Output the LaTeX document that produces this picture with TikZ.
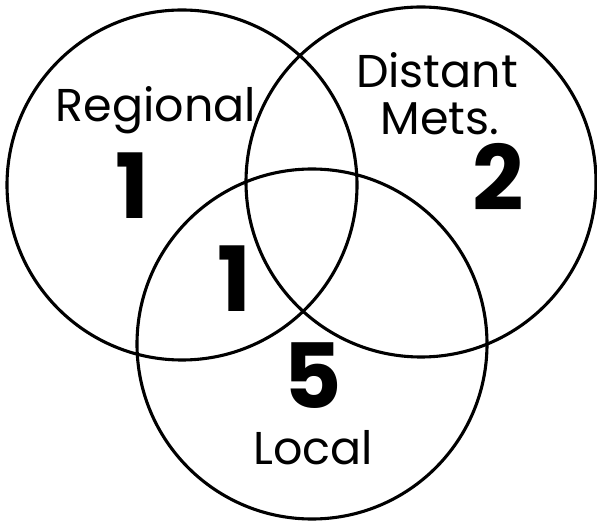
\documentclass[tikz,border=0pt]{standalone}
\usepackage{fontspec}
\setmainfont{Poppins}
\begin{document}
\begin{tikzpicture}[x=1pt,y=-1pt,
  ring/.style={draw=black, line width=3.1pt, circle, minimum size=350pt, inner sep=0pt},
  word/.style={anchor=base, inner sep=0pt, font=\fontsize{46}{46}\selectfont},
  num/.style={anchor=base, inner sep=0pt, font=\fontsize{90}{90}\selectfont\bfseries}]
\useasboundingbox (0,0) rectangle (597,521);
\node[ring] (reg) at (182,185) {};
\node[ring] (dist) at (421,182) {};
\node[ring] (loc) at (312,344) {};
\node[word] (tReg) at (156,122) {Regional};
\node[word] (tDist) at (437,88) {Distant};
\node[word] (tMets) at (440,135) {Mets.};
\node[word] (tLoc) at (313,464) {Local};
\node[num] (n1) at (132,219) {1};
\node[num] (n1b) at (234,312) {1};
\node[num] (n2) at (498,211) {2};
\node[num] (n5) at (313,408) {5};
\end{tikzpicture}
\end{document}
